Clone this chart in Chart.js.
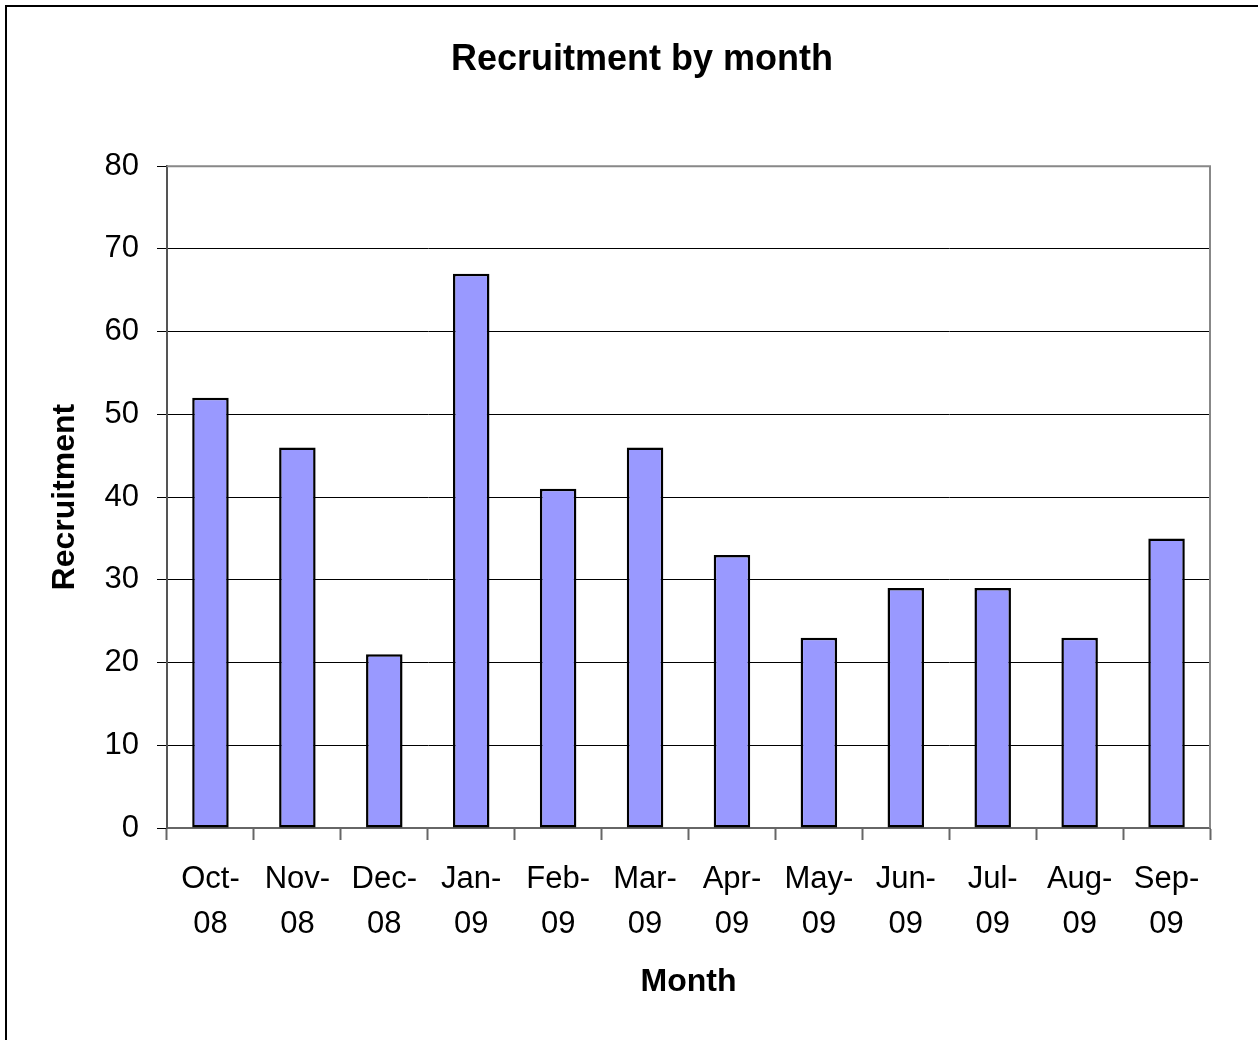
<!DOCTYPE html>
<html>
<head>
<meta charset="utf-8">
<title>Recruitment by month</title>
<script src="https://cdn.jsdelivr.net/npm/chart.js@4.4.1/dist/chart.umd.min.js"></script>
<style>
  html, body { margin: 0; padding: 0; background: #fff; overflow: hidden; }
  #frame { position: absolute; left: 5px; top: 5px; width: 1300px; height: 1100px; border: 2px solid #000; }
  #wrap { position: absolute; left: 0; top: 0; width: 1258px; height: 1040px; }
</style>
</head>
<body>
<div id="frame"></div>
<div id="wrap"><canvas id="recruitChart" width="1258" height="1040"></canvas></div>
<script>
// Data recruitment per bulan
const months = [['Oct-', '08'], ['Nov-', '08'], ['Dec-', '08'], ['Jan-', '09'], ['Feb-', '09'], ['Mar-', '09'],
                ['Apr-', '09'], ['May-', '09'], ['Jun-', '09'], ['Jul-', '09'], ['Aug-', '09'], ['Sep-', '09']];
const recruitment = [52, 46, 21, 67, 41, 46, 33, 23, 29, 29, 23, 35];
const yTicks = [0, 10, 20, 30, 40, 50, 60, 70, 80];

const FONT = "'Liberation Sans', Arial, sans-serif";

// garis abu-abu di atas dan kanan area plot
const plotBorder = {
    id: 'plotBorder',
    afterDraw(chart) {
        const a = chart.chartArea;
        const c = chart.ctx;
        c.save();
        c.strokeStyle = '#888';
        c.lineWidth = 2;
        c.beginPath();
        c.moveTo(a.left, a.top);
        c.lineTo(a.right, a.top);
        c.lineTo(a.right, a.bottom);
        c.stroke();
        c.restore();
    }
};

const ctx = document.getElementById('recruitChart').getContext('2d');
new Chart(ctx, {
    type: 'bar',
    data: {
        labels: months,
        datasets: [{
            data: recruitment,
            backgroundColor: '#9999FF',
            borderColor: '#000',
            borderWidth: 2.5,
            borderSkipped: false,
            barPercentage: 0.42,
            categoryPercentage: 1
        }]
    },
    options: {
        responsive: false,
        animation: false,
        layout: { padding: { left: 26, right: 0, top: 0, bottom: 0 } },
        plugins: {
            legend: { display: false },
            tooltip: { enabled: false },
            title: {
                display: true,
                text: 'Recruitment by month',
                color: '#000',
                font: { family: FONT, size: 36, weight: 'bold', lineHeight: 1.2 },
                padding: { top: 38, bottom: 85 }
            }
        },
        scales: {
            x: {
                offset: true,
                grid: { offset: true, drawOnChartArea: false, drawTicks: true, tickLength: 12, tickColor: '#666', tickWidth: 2 },
                border: { color: '#666', width: 2 },
                ticks: { color: '#000', font: { family: FONT, size: 31, lineHeight: 1.45 }, padding: 17, maxRotation: 0, autoSkip: false },
                title: {
                    display: true, text: 'Month', color: '#000',
                    font: { family: FONT, size: 32, weight: 'bold', lineHeight: 1.2 },
                    padding: { top: 0, bottom: 39 }
                },
                afterFit(scale) { scale.height = 212; }
            },
            y: {
                min: 0,
                max: 80,
                afterBuildTicks(scale) { scale.ticks = yTicks.map(v => ({ value: v })); },
                grid: { color: '#000', lineWidth: 1, tickLength: 10, tickColor: '#000' },
                border: { color: '#555', width: 2 },
                ticks: { color: '#000', font: { family: FONT, size: 31 }, padding: 18 },
                title: {
                    display: true, text: 'Recruitment', color: '#000',
                    font: { family: FONT, size: 32, weight: 'bold', lineHeight: 1.2 },
                    padding: { top: 20, bottom: 0 }
                },
                afterFit(scale) { scale.width = 141; }
            },
            // ruang kosong di kanan area plot
            yRight: {
                position: 'right',
                min: 0,
                max: 80,
                grid: { drawOnChartArea: false, drawTicks: false },
                border: { display: false },
                ticks: { display: false },
                afterFit(scale) { scale.width = 48; }
            }
        }
    },
    plugins: [plotBorder]
});
</script>
</body>
</html>
